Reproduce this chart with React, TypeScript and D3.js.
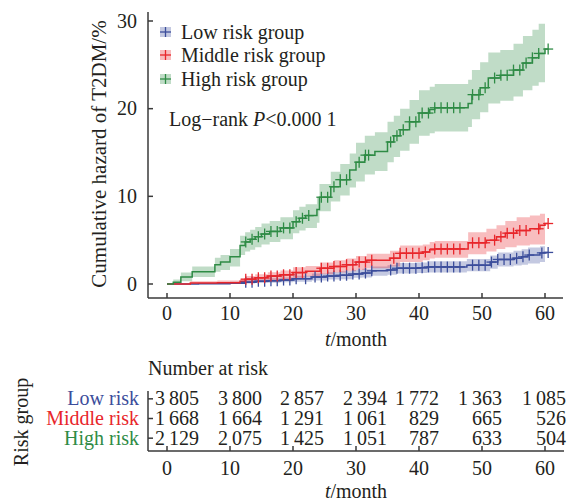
import React from "react";
import * as d3 from "d3";

// ---------- data ----------
const xTicks = [0, 10, 20, 30, 40, 50, 60];
const yTicks = [0, 10, 20, 30];

const groupNames = ["Low risk group", "Middle risk group", "High risk group"];
const tableNames = ["Low risk", "Middle risk", "High risk"];

// High risk group (cumulative hazard %, step changes)
const highT = [0, 1, 2.2, 4, 7.6, 8.5, 10, 11.6, 12.4, 13.2, 14, 15, 16.3, 18, 20, 21, 22, 23.8, 24.2, 26, 27.5, 29, 30, 31.4, 33, 35, 36, 37, 38.5, 40, 41.7, 42.5, 47.8, 48.4, 49.7, 51, 52.9, 55, 56.5, 58, 59, 60];
const highV = [0, 0.2, 0.8, 1.4, 2.2, 2.5, 3.1, 4.4, 4.8, 5.1, 5.4, 5.7, 6.0, 6.4, 7.1, 7.5, 7.8, 8.5, 9.9, 11.1, 11.9, 13.0, 13.9, 14.7, 15.1, 16.2, 16.9, 17.6, 18.5, 19.5, 19.9, 20.1, 20.6, 21.6, 22.4, 23.5, 23.8, 24.4, 25.2, 25.8, 26.3, 26.8];
const highLo = [0, 0.0, 0.3, 0.8, 1.4, 1.6, 2.0, 3.3, 3.7, 3.9, 4.2, 4.5, 4.8, 5.1, 5.8, 6.1, 6.4, 7.0, 8.3, 9.4, 10.1, 11.0, 11.7, 12.5, 12.9, 13.9, 14.5, 15.2, 16.0, 16.9, 17.2, 17.4, 17.9, 18.8, 19.6, 20.6, 20.9, 21.4, 22.1, 22.6, 23.0, 23.3];
const highHi = [0, 0.5, 1.3, 2.0, 3.0, 3.3, 4.0, 5.5, 5.9, 6.2, 6.5, 6.9, 7.2, 7.6, 8.4, 8.8, 9.1, 9.9, 11.4, 12.8, 13.7, 14.9, 16.1, 16.9, 17.3, 18.5, 19.2, 20.0, 21.0, 22.1, 22.5, 22.8, 23.3, 24.4, 25.3, 26.4, 26.7, 27.4, 28.3, 29.0, 29.7, 29.7];
const highCensor = [12.5, 13.5, 14.5, 15.5, 16.5, 17.5, 18.5, 19.5, 20.5, 21.5, 22.5, 24.5, 25.5, 26.5, 27.5, 28.5, 30.5, 31.5, 32, 35.5, 36.5, 37.5, 38.5, 39.5, 40.5, 41.5, 42.5, 43.5, 44.5, 45.5, 46.5, 48.5, 49.5, 50.5, 52, 53, 54, 55, 56, 57, 58, 59, 60.5];

// Middle risk group
const midT = [0, 3.7, 8, 11.6, 12.4, 14, 16, 18, 20, 22, 24.3, 26.5, 28.5, 30, 31.7, 35.4, 37, 40.6, 41.7, 42.5, 47.8, 50.7, 52.3, 53.7, 55.5, 57.6, 59.2, 60];
const midV = [0, 0.1, 0.15, 0.3, 0.55, 0.7, 0.9, 1.05, 1.3, 1.45, 1.8, 2.0, 2.2, 2.5, 2.7, 2.95, 3.5, 3.65, 3.9, 4.0, 4.7, 5.0, 5.4, 5.8, 6.1, 6.3, 6.7, 6.9];
const midLo = [0, 0.0, 0.0, 0.05, 0.2, 0.3, 0.45, 0.55, 0.7, 0.85, 1.1, 1.3, 1.45, 1.6, 1.8, 2.0, 2.5, 2.7, 2.9, 3.0, 3.4, 3.7, 4.0, 4.2, 4.4, 4.5, 4.5, 4.6];
const midHi = [0, 0.3, 0.4, 0.6, 0.9, 1.1, 1.35, 1.55, 1.9, 2.05, 2.45, 2.7, 2.9, 3.2, 3.45, 3.8, 4.4, 4.5, 4.8, 4.9, 5.9, 6.3, 6.7, 7.2, 7.6, 7.8, 8.0, 8.1];
const midCensor = [12.5, 13.5, 14.5, 15.5, 16.5, 17.5, 18.5, 19.5, 20.5, 21.5, 24.5, 25.5, 26.5, 27.5, 28.5, 29.5, 30.5, 31.5, 32.5, 36, 37, 38, 39, 40, 41, 42.5, 43.5, 44.5, 45.5, 46.5, 48.5, 49.5, 50.5, 52, 53, 54, 55, 56, 57, 59, 60.5];

// Low risk group
const lowT = [0, 5, 10, 12.4, 14, 16, 18, 20, 23, 25.4, 27.5, 29.5, 31, 32.5, 35, 36.5, 39.7, 41.3, 47.6, 51.3, 52.5, 55, 56.3, 57.3, 59.2, 60];
const lowV = [0, 0.03, 0.08, 0.2, 0.3, 0.38, 0.45, 0.6, 0.8, 0.9, 1.0, 1.15, 1.25, 1.5, 1.6, 1.8, 1.85, 1.95, 2.15, 2.5, 2.8, 2.95, 3.1, 3.3, 3.55, 3.6];
const lowLo = [0, 0, 0, 0.05, 0.1, 0.15, 0.2, 0.25, 0.4, 0.5, 0.55, 0.7, 0.75, 0.95, 1.05, 1.2, 1.25, 1.3, 1.45, 1.75, 2.0, 2.1, 2.2, 2.35, 2.5, 2.5];
const lowHi = [0, 0.15, 0.25, 0.45, 0.55, 0.65, 0.75, 0.95, 1.2, 1.35, 1.45, 1.6, 1.75, 2.0, 2.15, 2.4, 2.45, 2.6, 2.85, 3.25, 3.6, 3.8, 3.95, 4.15, 4.3, 4.35];
const lowCensor = [12.5, 13.5, 14.5, 15.5, 16.5, 17.5, 18.5, 19.5, 20.5, 22, 23.5, 24.5, 25.5, 26.5, 27.5, 28.5, 29.5, 30.5, 31.5, 32.5, 35.5, 36.5, 37.5, 38.5, 39.5, 40.5, 41.5, 42.5, 43.5, 44.5, 45.5, 46.5, 48.5, 49.5, 50.5, 51.5, 52.5, 53.5, 54.5, 55.5, 56.5, 57.5, 59.5, 60.5];

// Number at risk
const riskTimes = [0, 10, 20, 30, 40, 50, 60];
const lowAtRisk = [3805, 3800, 2857, 2394, 1772, 1363, 1085];
const midAtRisk = [1668, 1664, 1291, 1061, 829, 665, 526];
const highAtRisk = [2129, 2075, 1425, 1051, 787, 633, 504];

// ---------- styles ----------
const FONT = "'Liberation Serif', 'Times New Roman', serif";
const TEXT = "#231f20";
const AXIS = "#3a3a3a";
const colors = ["#3b4d9b", "#e8262b", "#2e8b45"];
const bandColors = ["rgba(59,77,155,0.3)", "rgba(232,38,43,0.3)", "rgba(46,139,69,0.3)"];
const tableShift = [32, 32, 31, 31, 20, 20, 21];

const locale = d3.formatLocale({ decimal: ".", thousands: "\u2009", grouping: [3], currency: ["", ""] });
const fmt = locale.format(",d");

type Series = { t: number[]; v: number[]; lo: number[]; hi: number[]; censor: number[] };
const series: Series[] = [
  { t: lowT, v: lowV, lo: lowLo, hi: lowHi, censor: lowCensor },
  { t: midT, v: midV, lo: midLo, hi: midHi, censor: midCensor },
  { t: highT, v: highV, lo: highLo, hi: highHi, censor: highCensor },
];
const atRisk = [lowAtRisk, midAtRisk, highAtRisk];

export default function App() {
  const W = 574, H = 501;
  const x = d3.scaleLinear().domain([0, 60]).range([167, 545]);
  const y = d3.scaleLinear().domain([0, 30]).range([284, 21]);
  const axisLeft = 148, axisBottom = 298, axisTop = 12, axisRight = 563;

  const stepAt = (s: Series, tt: number) => {
    const i = d3.bisectRight(s.t, tt) - 1;
    return s.v[Math.max(0, i)];
  };

  const line = d3.line<[number, number]>().curve(d3.curveStepAfter);

  // table
  const rowY = d3.scaleBand<number>().domain([0, 1, 2]).range([389, 448]).paddingInner(0);
  const rowCenter = (i: number) => (rowY(i) as number) + rowY.bandwidth() / 2;
  const tAxisY = 451;

  const cs = 5;

  return (
    <svg width={W} height={H} style={{ position: "absolute", left: 0, top: 0, background: "#fff" }} fontFamily={FONT}>
      {/* bands */}
      {series.map((s, k) => {
        const a = d3
          .area<number>()
          .x((i) => x(s.t[i]))
          .y0((i) => y(s.lo[i]))
          .y1((i) => y(s.hi[i]))
          .curve(d3.curveStepAfter);
        return <path key={"b" + k} d={a(d3.range(s.t.length)) || ""} fill={bandColors[k]} stroke="none" />;
      })}
      {/* lines */}
      {series.map((s, k) => {
        const last = s.censor[s.censor.length - 1];
        const pts: [number, number][] = s.t.map((tt, i) => [x(tt), y(s.v[i])]);
        pts.push([x(Math.max(last, s.t[s.t.length - 1])), y(s.v[s.v.length - 1])]);
        return <path key={"l" + k} d={line(pts) || ""} fill="none" stroke={colors[k]} strokeWidth={1.5} />;
      })}
      {/* censor marks */}
      {series.map((s, k) => (
        <g key={"c" + k} stroke={colors[k]} strokeWidth={1.3}>
          {s.censor.map((c, j) => {
            const cx = x(c), cy = y(stepAt(s, c));
            return (
              <g key={j}>
                <line x1={cx - cs} x2={cx + cs} y1={cy} y2={cy} />
                <line x1={cx} x2={cx} y1={cy - cs - 0.5} y2={cy + cs + 0.5} />
              </g>
            );
          })}
        </g>
      ))}

      {/* axes */}
      <g stroke={AXIS} strokeWidth={1.5} fill="none">
        <line x1={axisLeft} x2={axisLeft} y1={axisTop} y2={axisBottom} />
        <line x1={axisLeft} x2={axisRight} y1={axisBottom} y2={axisBottom} />
        {yTicks.map((v) => (
          <line key={"yt" + v} x1={axisLeft} x2={axisLeft + 5} y1={y(v)} y2={y(v)} />
        ))}
        {xTicks.map((v) => (
          <line key={"xt" + v} x1={x(v)} x2={x(v)} y1={axisBottom} y2={axisBottom - 5} />
        ))}
      </g>
      <g fill={TEXT} fontSize={20}>
        {yTicks.map((v) => (
          <text key={"yl" + v} x={137} y={y(v) + 6.5} textAnchor="end">
            {v}
          </text>
        ))}
        {xTicks.map((v) => (
          <text key={"xl" + v} x={x(v)} y={320} textAnchor="middle">
            {v}
          </text>
        ))}
        <text x={356} y={346} textAnchor="middle">
          <tspan fontStyle="italic">t</tspan>/month
        </text>
        <text transform="translate(106,154) rotate(-90)" textAnchor="middle" fontSize={21}>
          Cumulative hazard of T2DM/%
        </text>
      </g>

      {/* legend */}
      {groupNames.map((n, k) => {
        const cy = [32, 55, 79][k];
        return (
          <g key={"lg" + k}>
            <rect x={160} y={cy - 5} width={11} height={10} fill={bandColors[k]} />
            <line x1={160} x2={171} y1={cy} y2={cy} stroke={colors[k]} strokeWidth={1.3} />
            <line x1={165.5} x2={165.5} y1={cy - 5} y2={cy + 5} stroke={colors[k]} strokeWidth={1.3} />
            <text x={181} y={cy + 6.5} fontSize={20} fill={TEXT}>
              {n}
            </text>
          </g>
        );
      })}
      <text x={169} y={126} fontSize={20} fill={TEXT}>
        Log−rank <tspan fontStyle="italic">P</tspan>&lt;0.000 1
      </text>

      {/* risk table */}
      <text x={148} y={375} fontSize={20} fill={TEXT}>
        Number at risk
      </text>
      <text transform="translate(28,422) rotate(-90)" textAnchor="middle" fontSize={20} fill={TEXT}>
        Risk group
      </text>
      {tableNames.map((n, k) => (
        <text key={"tn" + k} x={139} y={rowCenter(k) + 6.5} textAnchor="end" fontSize={20} fill={colors[k]}>
          {n}
        </text>
      ))}
      {atRisk.map((row, k) =>
        row.map((val, j) => (
          <text key={"n" + k + "_" + j} x={x(riskTimes[j]) + tableShift[j]} y={rowCenter(k) + 6.5} textAnchor="end" fontSize={20} fill={TEXT}>
            {fmt(val)}
          </text>
        ))
      )}
      <g stroke={AXIS} strokeWidth={1.5}>
        <line x1={axisLeft} x2={axisLeft} y1={391} y2={tAxisY} />
        <line x1={axisLeft} x2={564} y1={tAxisY} y2={tAxisY} />
        {[0, 1, 2].map((k) => (
          <line key={"rt" + k} x1={axisLeft} x2={axisLeft + 5} y1={rowCenter(k)} y2={rowCenter(k)} />
        ))}
        {riskTimes.map((t) => (
          <line key={"bt" + t} x1={x(t)} x2={x(t)} y1={tAxisY} y2={tAxisY - 5} />
        ))}
      </g>
      <g fontSize={20} fill={TEXT}>
        {riskTimes.map((t) => (
          <text key={"btl" + t} x={x(t)} y={475} textAnchor="middle">
            {t}
          </text>
        ))}
        <text x={356} y={498} textAnchor="middle">
          <tspan fontStyle="italic">t</tspan>/month
        </text>
      </g>
    </svg>
  );
}
